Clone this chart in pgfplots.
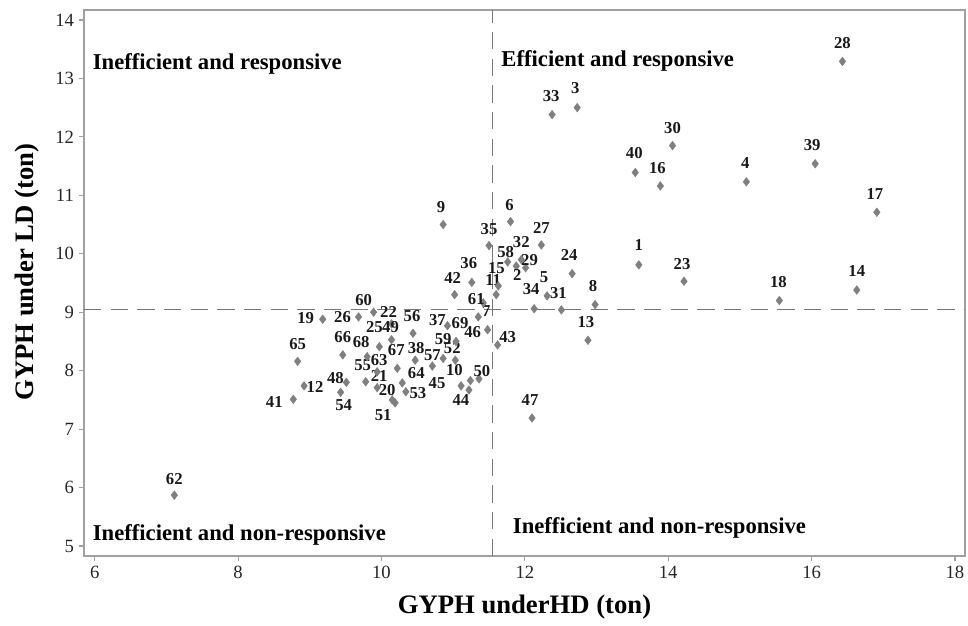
\documentclass[border=0pt]{standalone}
\usepackage{pgfplots}
\usepackage{pgfplotstable}
\pgfplotsset{compat=1.18}
\usepackage{fontspec}
\setmainfont{Liberation Serif}

\definecolor{markgray}{RGB}{128,128,128}
\definecolor{framegray}{RGB}{160,160,160}
\definecolor{dashgray}{RGB}{120,120,120}

% genotype means: yield under HD (x), yield under LD (y), label offset in px (dx, dy)
\pgfplotstableread{
x     y     lab dx  dy
13.59 9.81  1   0   20
11.88 9.79  2   1   -9
12.73 12.50 3   -2  20
15.09 11.23 4   -1  19
12.31 9.28  5   -3  19
11.80 10.55 6   -1  17
11.35 8.92  7   8   6
12.98 9.13  8   -2  19
10.86 10.50 9   -2  17
11.24 7.83  10  -16 11
11.60 9.30  11  -3  15
8.92  7.74  12  11  -1
12.88 8.52  13  -2  18
16.63 9.38  14  0   19
11.63 9.45  15  -2  18
13.89 11.16 16  -3  18
16.91 10.71 17  -2  18
15.55 9.20  18  -1  18
9.18  8.88  19  -17 1
10.15 7.50  20  -5  10
9.94  7.71  21  2   12
10.14 8.80  22  -3  12
14.22 9.53  23  -2  17
12.66 9.66  24  -3  19
9.97  8.41  25  -5  20
9.68  8.92  26  -16 0
12.23 10.15 27  0   17
16.43 13.29 28  0   18
12.01 9.76  29  4   8
14.06 11.85 30  0   18
12.51 9.04  31  -3  17
11.95 9.90  32  0   18
12.38 12.38 33  -1  19
12.13 9.06  34  -3  20
11.50 10.14 35  0   17
11.26 9.51  36  -3  19
10.92 8.77  37  -10 6
10.47 8.18  38  1   12
16.05 11.54 39  -3  19
13.54 11.39 40  -1  19
8.77  7.51  41  -19 -3
11.02 9.30  42  -2  17
11.62 8.44  43  10  8
11.22 7.67  44  -8  -10
11.11 7.74  45  -24 3
11.48 8.70  46  -15 -2
12.10 7.19  47  -2  18
9.51  7.80  48  -11 4
10.14 8.53  49  -1  13
11.36 7.86  50  3   8
10.19 7.45  51  -12 -12
11.03 8.18  52  -3  12
10.34 7.64  53  12  -1
9.43  7.63  54  3   -13
9.78  7.81  55  -3  17
10.44 8.64  56  -1  17
10.71 8.08  57  0   11
11.76 9.86  58  -2  10
10.86 8.21  59  0   19
9.89  9.00  60  -10 12
11.42 9.16  61  -7  4
7.11  5.87  62  0   16
9.94  7.98  63  2   12
10.29 7.79  64  14  10
8.83  8.16  65  0   17
9.46  8.27  66  0   18
10.22 8.04  67  -1  18
9.80  8.24  68  -6  15
11.04 8.50  69  4   18
}\points

\begin{document}
\begin{tikzpicture}
\begin{axis}[
  scale only axis,
  width=660.75pt, height=409.5pt,
  xmin=5.85, xmax=18.14, ymin=4.83, ymax=14.17,
  xtick={6,8,...,18}, ytick={5,6,...,14},
  xtick pos=lower, ytick pos=left,
  tick align=outside, major tick length=4pt,
  axis line style={framegray, line width=0.9pt},
  tick style={framegray, line width=0.9pt},
  /pgf/number format/assume math mode=true,
  ticklabel style={font=\fontsize{14}{16}\selectfont, text=black!85},
  xlabel={GYPH underHD (ton)},
  ylabel={GYPH under LD (ton)},
  every axis x label/.style={at={(axis description cs:0.5,-0.0934)}, anchor=center,
    font=\bfseries\fontsize{20}{24}\selectfont},
  every axis y label/.style={at={(axis description cs:-0.0647,0.52)}, anchor=center, rotate=90,
    font=\bfseries\fontsize{20}{24}\selectfont},
  clip=false,
]
% quadrant borders
\addplot[dashgray, line width=0.8pt, dash pattern=on 13pt off 7pt] coordinates {(11.55,4.83) (11.55,14.17)};
\addplot[dashgray, line width=0.8pt, dash pattern=on 13pt off 7pt] coordinates {(5.85,9.04) (18.14,9.04)};

\addplot[
  only marks, mark=diamond*, mark size=3.2pt,
  mark options={fill=markgray, draw=markgray},
  point meta=explicit symbolic,
  nodes near coords,
  visualization depends on={\thisrow{dx}\as\ldx},
  visualization depends on={\thisrow{dy}\as\ldy},
  every node near coord/.append style={anchor=center, inner sep=0pt,
    xshift=\ldx*0.75pt, yshift=\ldy*0.75pt,
    font=\bfseries\fontsize{12.5}{14}\selectfont, text=black!90},
] table[x=x, y=y, meta=lab] {\points};

\node[anchor=base west, inner sep=0pt, font=\bfseries\fontsize{17}{20}\selectfont]
  at (axis cs:5.97,13.15) {Inefficient and responsive};
\node[anchor=base west, inner sep=0pt, font=\bfseries\fontsize{17}{20}\selectfont]
  at (axis cs:11.67,13.20) {Efficient and responsive};
\node[anchor=base west, inner sep=0pt, font=\bfseries\fontsize{17}{20}\selectfont]
  at (axis cs:5.97,5.09) {Inefficient and non-responsive};
\node[anchor=base west, inner sep=0pt, font=\bfseries\fontsize{17}{20}\selectfont]
  at (axis cs:11.83,5.22) {Inefficient and non-responsive};
\end{axis}
\pgfresetboundingbox
\path[use as bounding box] ([xshift=-63pt,yshift=-52.5pt]current axis.south west)
  rectangle ([xshift=2.25pt,yshift=7.5pt]current axis.north east);
\end{tikzpicture}
\end{document}
